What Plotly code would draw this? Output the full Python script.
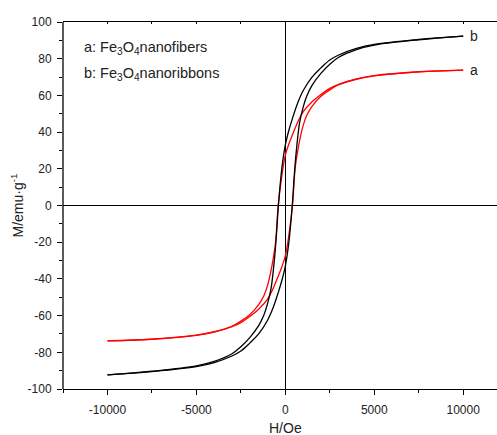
import plotly.graph_objects as go

# ---- data ----
# sample b (black): Fe3O4 nanoribbons
H_b_down = [10000, 7500, 5000, 4000, 3000, 2500, 2000, 1500, 1000, 700, 400, 200, 0,
            -200, -390, -500, -600, -800, -1000, -1200, -1500, -2000, -2500, -3000,
            -4000, -5000, -7500, -10000]
M_b_down = [92.3, 90.5, 87.8, 85.6, 82.0, 79.3, 75.0, 70.0, 62.5, 56.0, 47.5, 41.0, 33.0,
            20.0, 0.0, -16.0, -28.0, -45.0, -53.5, -59.5, -65.5, -72.0, -77.0, -80.8,
            -85.0, -87.4, -90.3, -92.3]
H_b_up = [-10000, -7500, -5000, -4000, -3000, -2500, -2000, -1500, -1000, -700, -400, -200, 0,
          200, 390, 500, 600, 800, 1000, 1200, 1500, 2000, 2500, 3000,
          4000, 5000, 7500, 10000]
M_b_up = [-92.3, -90.5, -87.8, -85.6, -82.0, -79.3, -75.0, -70.0, -62.5, -56.0, -47.5, -41.0, -33.0,
          -20.0, 0.0, 16.0, 28.0, 45.0, 53.5, 59.5, 65.5, 72.0, 77.0, 80.8,
          85.0, 87.4, 90.3, 92.3]

# sample a (red): Fe3O4 nanofibers
H_a_down = [10000, 7500, 5000, 4000, 3000, 2500, 2000, 1500, 1000, 700, 400, 200, 0,
            -200, -400, -550, -700, -850, -1000, -1200, -1500, -2000, -2500, -3000,
            -4000, -5000, -7500, -10000]
M_a_down = [73.8, 72.9, 70.8, 69.0, 66.0, 63.8, 60.5, 56.5, 51.0, 45.5, 38.5, 33.5, 27.5,
            16.0, 0.0, -20.0, -30.0, -37.5, -43.5, -49.0, -54.0, -59.5, -63.0, -65.8,
            -68.8, -70.6, -72.8, -73.8]
H_a_up = [-10000, -7500, -5000, -4000, -3000, -2500, -2000, -1500, -1000, -700, -400, -200, 0,
          200, 400, 550, 700, 850, 1000, 1200, 1500, 2000, 2500, 3000,
          4000, 5000, 7500, 10000]
M_a_up = [-73.8, -72.9, -70.8, -69.0, -66.0, -63.8, -60.5, -56.5, -51.0, -45.5, -38.5, -33.5, -27.5,
          -16.0, 0.0, 20.0, 30.0, 37.5, 43.5, 49.0, 54.0, 59.5, 63.0, 65.8,
          68.8, 70.6, 72.8, 73.8]

x_tickvals = [-10000, -5000, 0, 5000, 10000]
x_ticktext = ["-10000", "-5000", "0", "5000", "10000"]
x_minor = [-12500, -7500, -2500, 2500, 7500]
x_top_ticks = [-12500, -10000, -7500, -5000, -2500, 0, 2500, 5000, 7500, 10000]
y_tickvals = [100, 80, 60, 40, 20, 0, -20, -40, -60, -80, -100]
y_ticktext = ["100", "80", "60", "40", "20", "0", "-20", "-40", "-60", "-80", "-100"]
y_minor = [-90, -70, -50, -30, -10, 10, 30, 50, 70, 90]
legend_lines = ["a: Fe<sub>3</sub>O<sub>4</sub>nanofibers",
                "b: Fe<sub>3</sub>O<sub>4</sub>nanoribbons"]
curve_labels = ["a", "b"]
x_range = [-12500, 11900]
y_range = [-100, 100]

FONT = "Arial, Liberation Sans, sans-serif"
TXT = "#222222"

fig = go.Figure()
for hx, my, col in [(H_a_down, M_a_down, "#ff0000"), (H_a_up, M_a_up, "#ff0000"),
                    (H_b_down, M_b_down, "#000000"), (H_b_up, M_b_up, "#000000")]:
    fig.add_trace(go.Scatter(x=hx, y=my, mode="lines",
                             line=dict(color=col, width=1.3, shape="spline", smoothing=1.0),
                             showlegend=False, hoverinfo="skip"))
# invisible trace that carries the top (mirror) axis with inward ticks
fig.add_trace(go.Scatter(x=[None], y=[None], xaxis="x2", mode="lines",
                         showlegend=False, hoverinfo="skip"))

fig.update_layout(
    width=497, height=435,
    margin=dict(l=63, r=0, t=22, b=46, autoexpand=False),
    paper_bgcolor="white", plot_bgcolor="white",
    font=dict(family=FONT, size=12, color=TXT),
    xaxis=dict(range=x_range, tickvals=x_tickvals, ticktext=x_ticktext,
               ticks="outside", ticklen=5, tickwidth=1.2,
               tickcolor="black", showline=True, linecolor="black", linewidth=1.3,
               showgrid=False, zeroline=True, zerolinecolor="black", zerolinewidth=1.2,
               minor=dict(tickvals=x_minor, ticks="outside",
                          ticklen=3, tickcolor="black", tickwidth=1),
               tickfont=dict(size=12, color=TXT), ticklabelstandoff=4, automargin=False),
    xaxis2=dict(range=x_range, overlaying="x", side="top", tickvals=x_top_ticks, ticks="inside",
                ticklen=2, tickcolor="black", tickwidth=1, showticklabels=False, showline=True,
                linecolor="black", linewidth=1.3, showgrid=False, zeroline=False, automargin=False),
    yaxis=dict(range=y_range, tickvals=y_tickvals, ticktext=y_ticktext,
               ticks="outside", ticklen=5, tickwidth=1.2,
               tickcolor="black", showline=False,
               showgrid=False, zeroline=True, zerolinecolor="black", zerolinewidth=1.2,
               minor=dict(tickvals=y_minor, ticks="outside",
                          ticklen=3, tickcolor="black", tickwidth=1),
               tickfont=dict(size=12, color=TXT), ticklabelstandoff=3, automargin=False,
               title=dict(text="M/emu·g<sup>-1</sup>", font=dict(size=14, color=TXT), standoff=0)),
    shapes=[dict(type="line", xref="paper", yref="paper", x0=0, x1=0, y0=0, y1=1,
                 line=dict(color="black", width=1.3), layer="above")],
)

# x-axis title
fig.add_annotation(x=0, xref="x", y=-0.08, yref="paper", text="H/Oe", showarrow=False,
                   font=dict(size=14, color=TXT), xanchor="center", yanchor="top")
# in-plot legend text
fig.add_annotation(x=-11450, y=85.8, xref="x", yref="y", text=legend_lines[0], showarrow=False,
                   xanchor="left", yanchor="middle", font=dict(size=14.5, color=TXT))
fig.add_annotation(x=-11450, y=71.8, xref="x", yref="y", text=legend_lines[1], showarrow=False,
                   xanchor="left", yanchor="middle", font=dict(size=14.5, color=TXT))
# curve labels at the end of each loop
fig.add_annotation(x=10250, y=M_b_down[0], xref="x", yref="y", text=curve_labels[1], showarrow=False,
                   xanchor="left", yanchor="middle", font=dict(size=14, color=TXT))
fig.add_annotation(x=10250, y=M_a_down[0], xref="x", yref="y", text=curve_labels[0], showarrow=False,
                   xanchor="left", yanchor="middle", font=dict(size=14, color=TXT))

# remove the default page margin so the figure sits at the window's top-left corner
fig.write_html("out.html", config={"displayModeBar": False},
               post_script="document.body.style.margin='0';document.body.style.overflow='hidden';")
